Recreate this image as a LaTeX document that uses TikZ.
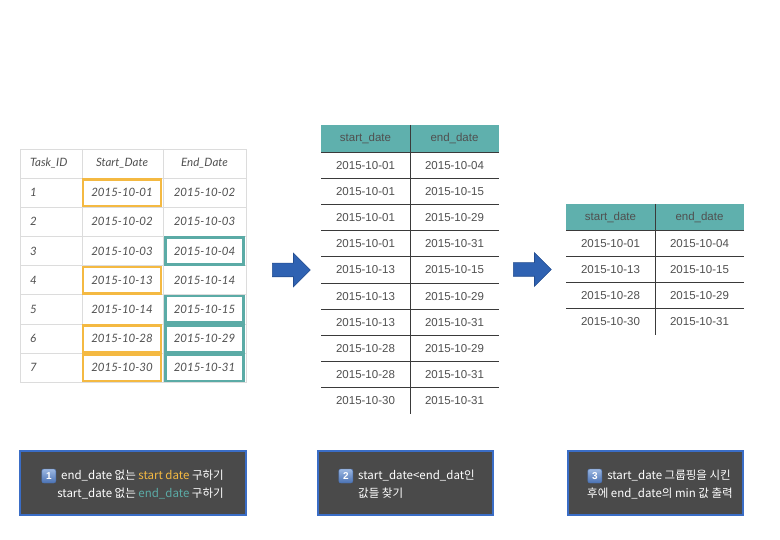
\documentclass[tikz,border=0pt]{standalone}
\usepackage{fontspec}
\setmainfont{Liberation Sans}
\newfontfamily\krfont{Noto Sans CJK KR}
\newfontfamily\latofont{Lato}
\usetikzlibrary{shapes.arrows,positioning}

\definecolor{hdteal}{HTML}{5FB0AD}
\definecolor{hlorange}{HTML}{F4B942}
\definecolor{hlteal}{HTML}{5BABA6}
\definecolor{gridgray}{HTML}{DCDCDC}
\definecolor{rulegray}{HTML}{3A3A3A}
\definecolor{datagray}{HTML}{505050}
\definecolor{notegray}{HTML}{4A4A4A}
\definecolor{noteblue}{HTML}{3A6DC6}
\definecolor{arrowblue}{HTML}{2F62B2}
\definecolor{arrowedge}{HTML}{244D90}
\definecolor{keytop}{HTML}{9DB8E2}
\definecolor{keybot}{HTML}{4A72B4}

\begin{document}
\begin{tikzpicture}[x=1pt,y=-1pt]

      \tikzstyle{cell}=[inner sep=0pt,minimum width=78pt,minimum height=26.5pt,
        font=\latofont\itshape\fontsize{11.5}{13}\selectfont,text=datagray]
      \tikzstyle{hlo}=[draw=hlorange,line width=2.6pt]
      \tikzstyle{hlt}=[draw=hlteal,line width=2.6pt]
      \tikzstyle{plain}=[]
      \tikzstyle{val}=[inner sep=0pt,text=datagray,
        font=\fontsize{11.5}{13}\selectfont]
      \tikzstyle{rule}=[rulegray,line width=0.8pt]
      \tikzstyle{bigarrow}=[single arrow,fill=arrowblue,draw=arrowedge,
        line width=0.6pt,inner sep=6.5pt,minimum height=38pt,
        single arrow head extend=10pt,anchor=tail]
      \tikzstyle{note}=[rectangle,fill=notegray,draw=noteblue,
        line width=2pt,minimum width=226pt,minimum height=64pt]
      \tikzstyle{notetext}=[inner sep=0pt,text=white,
        font=\krfont\fontsize{11.5}{13}\selectfont]
      \tikzstyle{keycap}=[rectangle,rounded corners=2pt,minimum size=14pt,
        inner sep=0pt,top color=keytop,bottom color=keybot,draw=keybot,
        text=white,font=\bfseries\fontsize{10}{11}\selectfont]

      \fill[white] (0,0) rectangle (780,540);
      \useasboundingbox (0,0) rectangle (780,540);

      % source table
      \draw[gridgray,line width=0.8pt] (20,149) rectangle (246,382.4);
      \draw[gridgray,line width=0.8pt] (82,149) -- (82,382.4);
      \draw[gridgray,line width=0.8pt] (163,149) -- (163,382.4);
      \foreach \k in {0,...,6}
        \draw[gridgray,line width=0.8pt] (20,178+29.2*\k) -- (246,178+29.2*\k);

      \node(TaskHd)[cell,anchor=west,minimum width=0pt] at (30,163.5){Task\_ID};
      \node(StartHd)[cell] at (122,163.5){Start\_Date};
      \node(EndHd)[cell] at (204.5,163.5){End\_Date};

      \foreach \i/\s/\e/\hs/\he in {1/2015-10-01/2015-10-02/hlo/plain,
          2/2015-10-02/2015-10-03/plain/plain,
          3/2015-10-03/2015-10-04/plain/hlt,
          4/2015-10-13/2015-10-14/hlo/plain,
          5/2015-10-14/2015-10-15/plain/hlt,
          6/2015-10-28/2015-10-29/hlo/hlt,
          7/2015-10-30/2015-10-31/hlo/hlt}{
        \node(Task\i)[cell,anchor=west,minimum width=0pt]
          at (30,163.4+29.2*\i){\i};
        \node(Start\i)[cell,\hs] at (122,163.4+29.2*\i){\s};
        \node(End\i)[cell,\he] at (204.5,163.4+29.2*\i){\e};
      }

      % joined pairs
      \fill[hdteal] (321,125) rectangle (499,152);
      \node(PairStartHd)[val] at (365.5,138.5){start\_date};
      \node(PairEndHd)[val] at (454.5,138.5){end\_date};
      \foreach \s/\e [count=\i] in {2015-10-01/2015-10-04,
          2015-10-01/2015-10-15,2015-10-01/2015-10-29,
          2015-10-01/2015-10-31,2015-10-13/2015-10-15,
          2015-10-13/2015-10-29,2015-10-13/2015-10-31,
          2015-10-28/2015-10-29,2015-10-28/2015-10-31,
          2015-10-30/2015-10-31}{
        \node(PairStart\i)[val] at (365.5,138.9+26.2*\i){\s};
        \node(PairEnd\i)[val] at (454.5,138.9+26.2*\i){\e};
      }
      \foreach \k in {0,...,9}
        \draw[rule] (321,152+26.2*\k) -- (499,152+26.2*\k);
      \draw[rule] (410,125) -- (410,414);

      % grouped result
      \fill[hdteal] (566,204) rectangle (744,230);
      \node(MinStartHd)[val] at (610.5,217){start\_date};
      \node(MinEndHd)[val] at (699.5,217){end\_date};
      \foreach \s/\e [count=\i] in {2015-10-01/2015-10-04,
          2015-10-13/2015-10-15,2015-10-28/2015-10-29,
          2015-10-30/2015-10-31}{
        \node(MinStart\i)[val] at (610.5,216.9+26.2*\i){\s};
        \node(MinEnd\i)[val] at (699.5,216.9+26.2*\i){\e};
      }
      \foreach \k in {0,...,3}
        \draw[rule] (566,230+26.2*\k) -- (744,230+26.2*\k);
      \draw[rule] (655,204) -- (655,335);

      \node(Arrow1)[bigarrow] at (272,270){};
      \node(Arrow2)[bigarrow] at (513,269.5){};

      % notes
      \node(Note1)[note] at (133,482.5){};
      \node(Note2)[note,minimum width=175pt] at (405.5,482.5){};
      \node(Note3)[note,minimum width=175pt] at (655.5,482.5){};

      \node(Note1a)[notetext] at (142.5,476)
        {end\_date 없는 \textcolor{hlorange}{start date} 구하기};
      \node(Note1b)[notetext] at (140.5,493.5)
        {start\_date 없는 \textcolor{hlteal}{end\_date} 구하기};
      \node(Key1)[keycap,left=5pt of Note1a]{1};

      \node(Note2a)[notetext,anchor=west] at (358,476)
        {start\_date<end\_dat인};
      \node(Note2b)[notetext,anchor=west] at (358,493.5){값들 찾기};
      \node(Key2)[keycap,left=5pt of Note2a]{2};

      \node(Note3a)[notetext] at (669,476){start\_date 그룹핑을 시킨};
      \node(Note3b)[notetext] at (660,493.5)
        {후에 end\_date의 min 값 출력};
      \node(Key3)[keycap,left=5pt of Note3a]{3};

    \end{tikzpicture}
\end{document}
